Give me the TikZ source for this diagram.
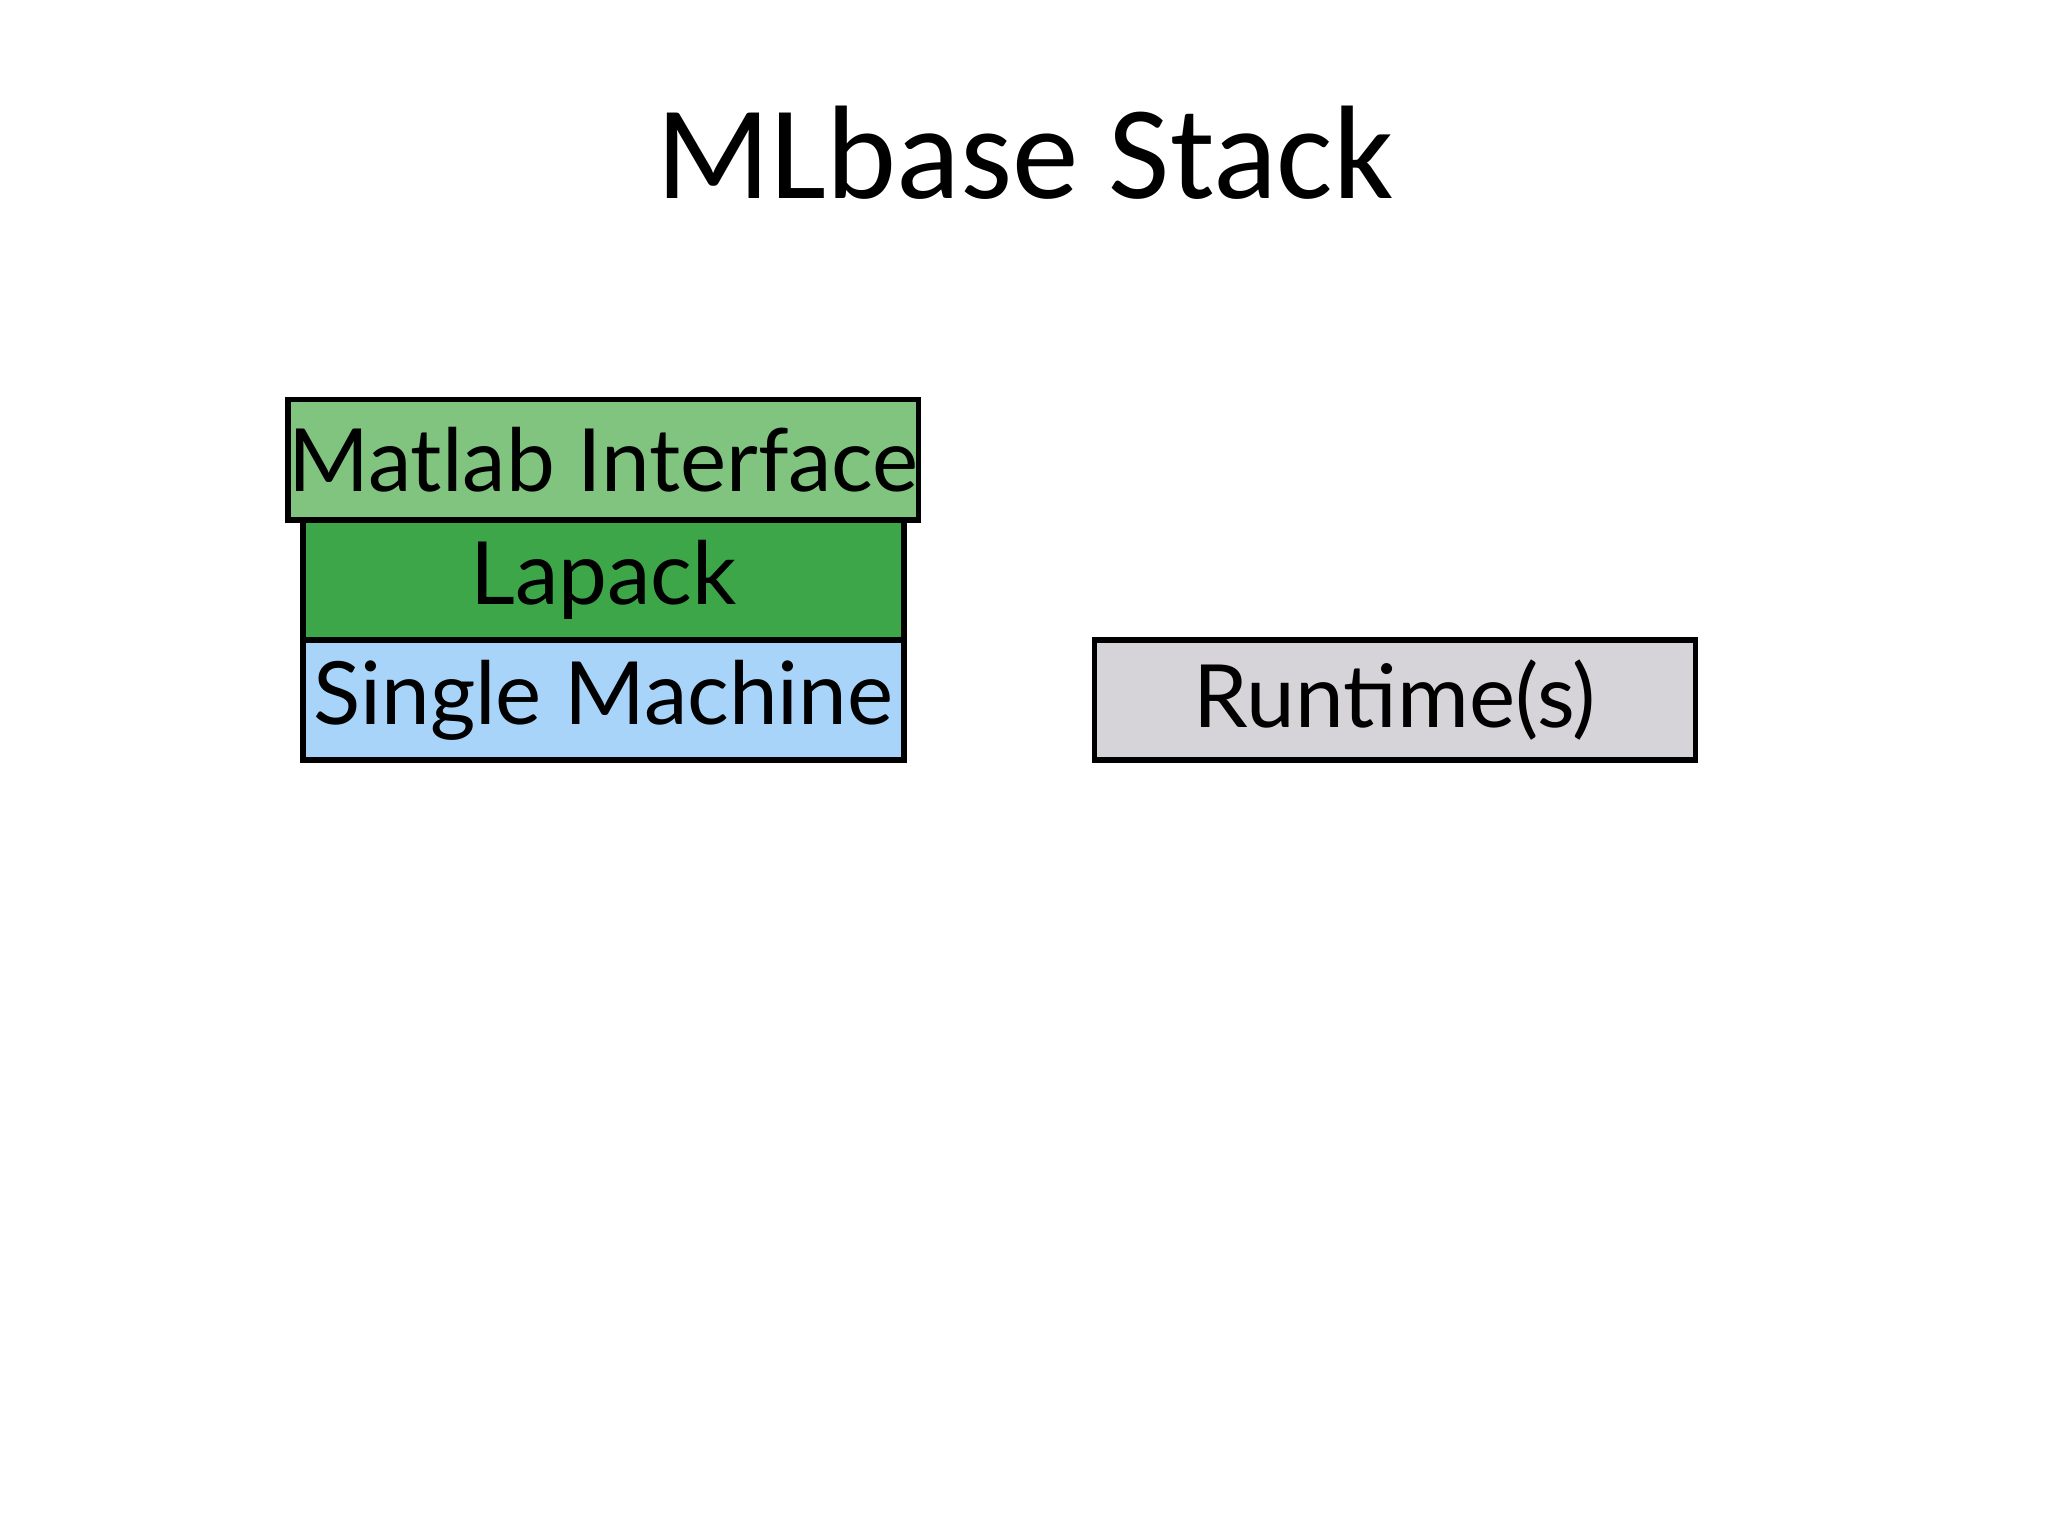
\documentclass[tikz,border=0pt]{standalone}
\usepackage{fontspec}
\setmainfont{Carlito}
\newfontfamily\boxfont{Lato}
\definecolor{lgreen}{HTML}{80C480}
\definecolor{dgreen}{HTML}{3DA648}
\definecolor{lblue}{HTML}{A8D4FA}
\definecolor{lgray}{HTML}{D6D4D8}
\begin{document}
\begin{tikzpicture}[x=0.01cm,y=-0.01cm,
  layer/.style={draw=black,line width=1.2pt,minimum width=4.6cm,minimum height=0.92cm,inner sep=0pt,font=\boxfont\fontsize{19}{22}\selectfont}]
\useasboundingbox[fill=white] (0,0) rectangle (1568,1176);
\node[font=\fontsize{29}{34}\selectfont] (title) at (785,117) {MLbase Stack};
\node[layer,fill=lgreen] (matlab) at (462,352) {Matlab Interface};
\node[layer,fill=dgreen] (lapack) at (462,444) {Lapack};
\node[layer,fill=lblue] (single) at (462,536) {Single Machine};
\node[layer,fill=lgray] (runtime) at (1068,536) {Runtime(s)};
\end{tikzpicture}
\end{document}
